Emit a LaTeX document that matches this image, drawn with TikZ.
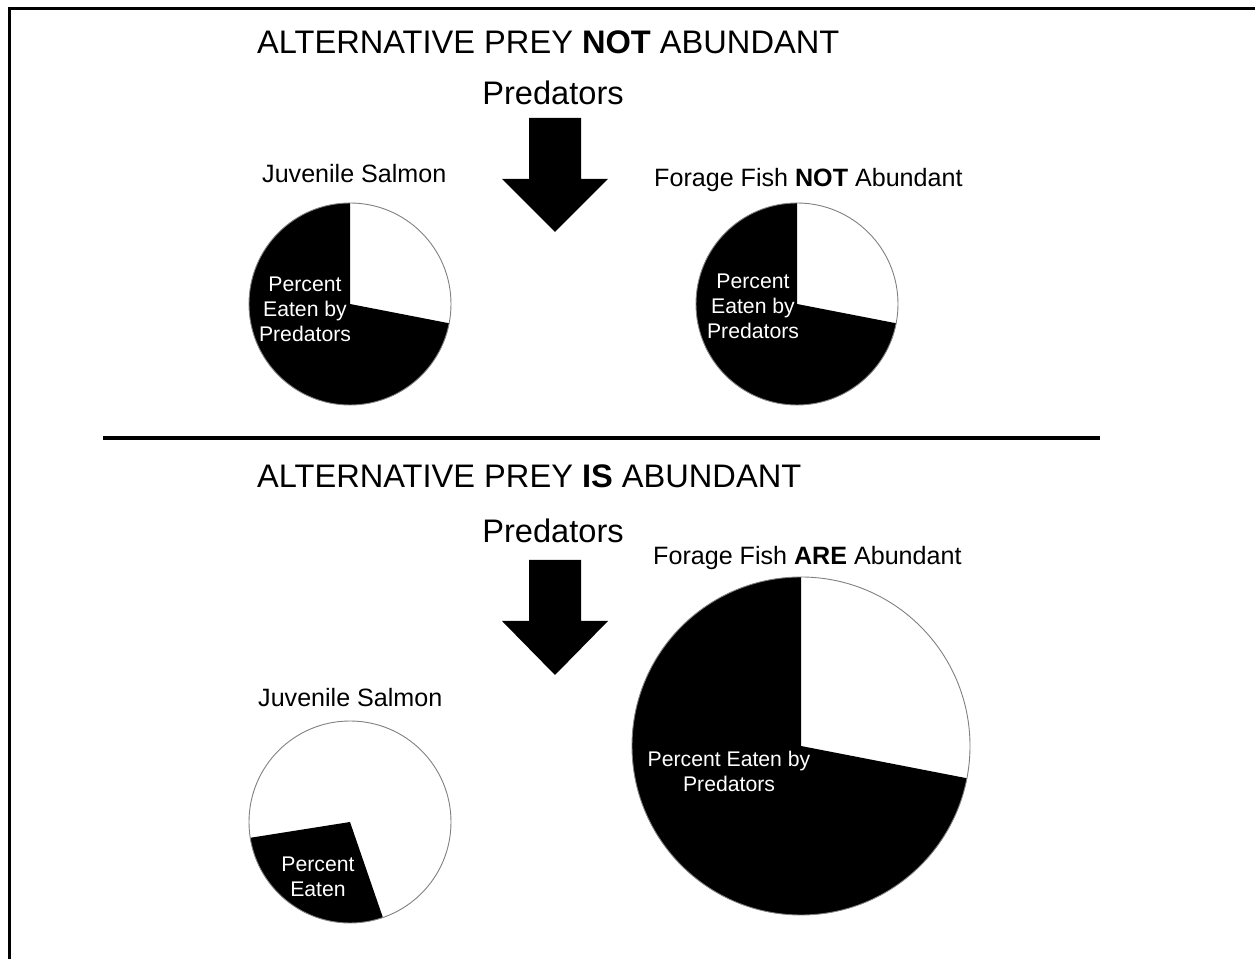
\documentclass[tikz,border=0pt]{standalone}
\usepackage{fontspec}
\setmainfont{Liberation Sans}

\begin{document}
\begin{tikzpicture}[x=1pt,y=1pt,
  heading/.style={anchor=base west, inner sep=0pt, font=\fontsize{32.6}{38}\selectfont},
  predtext/.style={anchor=base, inner sep=0pt, font=\fontsize{32.6}{38}\selectfont},
  captiontext/.style={anchor=base west, inner sep=0pt, font=\fontsize{25.1}{30}\selectfont},
  insidetext/.style={text=white, align=center, inner sep=0pt, font=\fontsize{21.2}{25}\selectfont},
  pieedge/.style={draw=gray, line width=0.9pt}]
\useasboundingbox (0,0) rectangle (1255,958);
\draw[line width=3pt] (9.5,-20) -- (9.5,949.5) -- (1280,949.5);

% alternative prey not abundant
\node[heading] (titleA) at (257,904.5) {ALTERNATIVE PREY \textbf{NOT} ABUNDANT};
\node[predtext] (predA) at (553,853) {Predators};
\fill (529,840) -- (581,840) -- (581,779) -- (608,779) -- (555,726) -- (502,779) -- (529,779) -- cycle;
\node[captiontext] (salmonA) at (262,775) {Juvenile Salmon};
\node[captiontext] (forageA) at (654,771) {Forage Fish \textbf{NOT} Abundant};

\coordinate (pieA) at (350,654);
\fill (pieA) -- ++(90:101) arc[start angle=90, end angle=349, radius=101] -- cycle;
\draw[pieedge] (pieA) circle[radius=101];
\node[insidetext] (eatenA) at (305,649) {Percent\\Eaten by\\Predators};

\coordinate (pieB) at (797,654);
\fill (pieB) -- ++(90:101) arc[start angle=90, end angle=349, radius=101] -- cycle;
\draw[pieedge] (pieB) circle[radius=101];
\node[insidetext] (eatenB) at (753,652) {Percent\\Eaten by\\Predators};

\draw[line width=4.5pt] (103,520) -- (1100,520);

% alternative prey is abundant
\node[heading] (titleB) at (257,470.5) {ALTERNATIVE PREY \textbf{IS} ABUNDANT};
\node[predtext] (predB) at (553,415) {Predators};
\fill (529,398) -- (581,398) -- (581,337) -- (608,337) -- (555,283) -- (502,337) -- (529,337) -- cycle;
\node[captiontext] (forageB) at (653,393) {Forage Fish \textbf{ARE} Abundant};
\node[captiontext] (salmonB) at (258,251) {Juvenile Salmon};

\coordinate (pieC) at (350,136);
\fill (pieC) -- ++(189:101) arc[start angle=189, end angle=289, radius=101] -- cycle;
\draw[pieedge] (pieC) circle[radius=101];
\node[insidetext] (eatenC) at (318,81.5) {Percent\\Eaten};

\coordinate (pieD) at (801,212);
\fill (pieD) -- ++(90:169) arc[start angle=90, end angle=349, radius=169] -- cycle;
\draw[pieedge] (pieD) circle[radius=169];
\node[insidetext] (eatenD) at (729,186.5) {Percent Eaten by\\Predators};
\end{tikzpicture}
\end{document}
